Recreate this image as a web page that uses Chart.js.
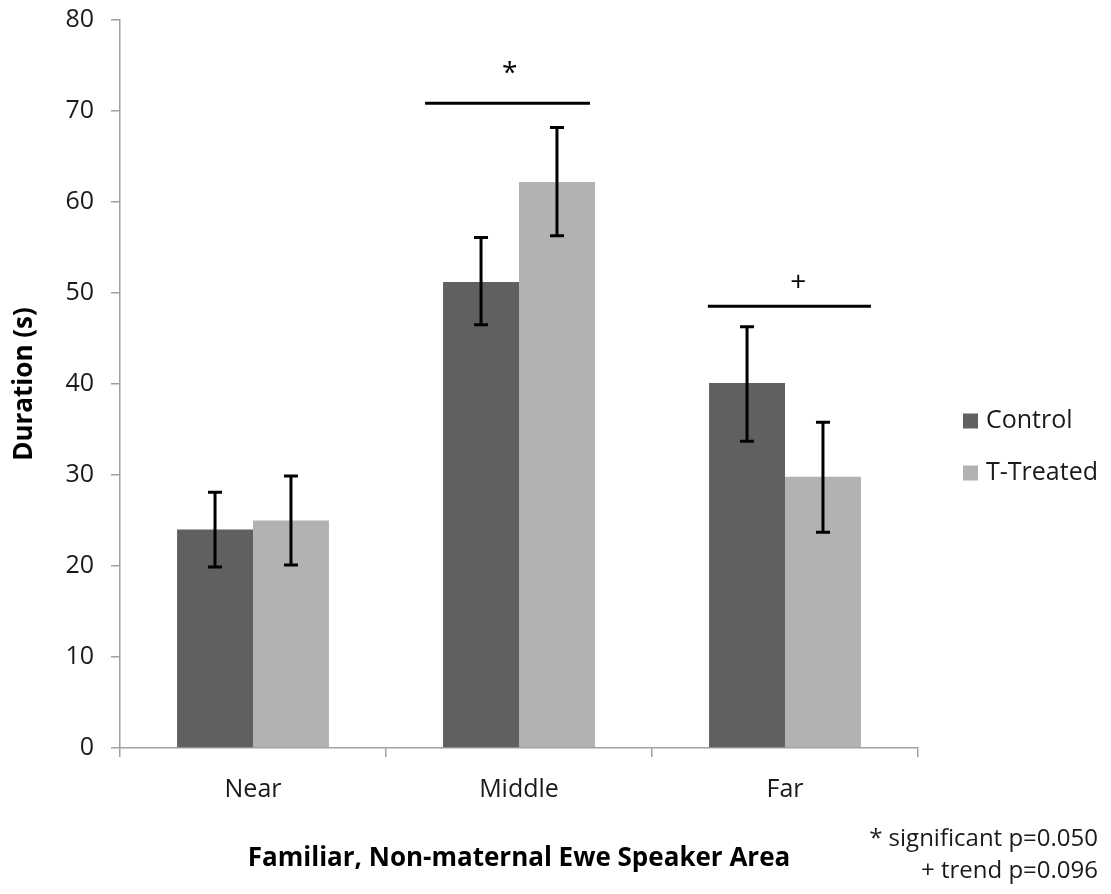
<!DOCTYPE html>
<html>
<head>
<meta charset="utf-8">
<script src="https://cdn.jsdelivr.net/npm/chart.js@4.4.1/dist/chart.umd.min.js"></script>
<style>
  html, body { margin: 0; padding: 0; background: #fff; }
  #wrap { width: 1111px; height: 894px; position: relative; }
</style>
</head>
<body>
<div id="wrap"><canvas id="c" width="1111" height="894"></canvas></div>
<script>
// ---- data ----
const categories = ['Near', 'Middle', 'Far'];
const seriesNames = ['Control', 'T-Treated'];
const controlMean = [24.0, 51.2, 40.1];
const controlLow  = [19.9, 46.5, 33.7];
const controlHigh = [28.1, 56.1, 46.3];
const treatedMean = [25.0, 62.2, 29.8];
const treatedLow  = [20.1, 56.3, 23.7];
const treatedHigh = [29.9, 68.2, 35.8];
const yTicks = [0, 10, 20, 30, 40, 50, 60, 70, 80];
const sigMarks = [
  { category: 1, from: -0.353, to: 0.267, level: 70.85, symbol: '*', symbolAt: -0.035, symbolLevel: 74.1 },
  { category: 2, from: -0.29, to: 0.323, level: 48.55, symbol: '+', symbolAt: 0.05, symbolLevel: 51.1 }
];
const footnotes = ['* significant p=0.050', '+ trend p=0.096'];

const FONT = "'Open Sans', 'DejaVu Sans', sans-serif";
const colors = ['#606060', '#b2b2b2'];

const errBars = {
  id: 'errBars',
  afterDatasetsDraw(chart) {
    const ctx = chart.ctx;
    const y = chart.scales.y, x = chart.scales.x;
    const lows = [controlLow, treatedLow], highs = [controlHigh, treatedHigh];
    ctx.save();
    ctx.strokeStyle = '#000';
    ctx.lineWidth = 3;
    for (let d = 0; d < 2; d++) {
      const meta = chart.getDatasetMeta(d);
      meta.data.forEach((bar, i) => {
        const cx = bar.x;
        const yl = y.getPixelForValue(lows[d][i]);
        const yh = y.getPixelForValue(highs[d][i]);
        ctx.beginPath();
        ctx.moveTo(cx, yl); ctx.lineTo(cx, yh);
        ctx.moveTo(cx - 7, yl); ctx.lineTo(cx + 7, yl);
        ctx.moveTo(cx - 7, yh); ctx.lineTo(cx + 7, yh);
        ctx.stroke();
      });
    }
    // significance marks
    sigMarks.forEach(s => {
      const px1 = x.getPixelForValue(s.category + s.from);
      const px2 = x.getPixelForValue(s.category + s.to);
      const py = y.getPixelForValue(s.level);
      ctx.beginPath();
      ctx.moveTo(px1, py); ctx.lineTo(px2, py);
      ctx.stroke();
      ctx.fillStyle = '#000';
      ctx.font = "28px " + FONT;
      ctx.textAlign = 'center';
      ctx.textBaseline = 'middle';
      ctx.fillText(s.symbol, x.getPixelForValue(s.category + s.symbolAt), y.getPixelForValue(s.symbolLevel));
    });
    // legend
    const area = chart.chartArea;
    ctx.font = "25px " + FONT;
    ctx.textAlign = 'left';
    ctx.textBaseline = 'middle';
    const legY = [421, 473];
    seriesNames.forEach((n, k) => {
      ctx.fillStyle = colors[k];
      ctx.fillRect(area.right + 45, legY[k] - 7.5, 15, 15);
      ctx.fillStyle = '#1a1a1a';
      ctx.fillText(n, area.right + 68, legY[k]);
    });
    // footnotes
    ctx.textAlign = 'right';
    ctx.font = "24px " + FONT;
    ctx.fillText(footnotes[0], 1098, 839);
    ctx.fillText(footnotes[1], 1098, 871);
    ctx.restore();
  }
};

new Chart(document.getElementById('c'), {
  type: 'bar',
  data: {
    labels: categories,
    datasets: [
      { label: seriesNames[0], data: controlMean, backgroundColor: colors[0], borderWidth: 0,
        categoryPercentage: 0.571, barPercentage: 1.0 },
      { label: seriesNames[1], data: treatedMean, backgroundColor: colors[1], borderWidth: 0,
        categoryPercentage: 0.571, barPercentage: 1.0 }
    ]
  },
  options: {
    responsive: false,
    animation: false,
    devicePixelRatio: 1,
    layout: { padding: { left: 0, right: 193, top: 20, bottom: 0 } },
    plugins: { legend: { display: false }, tooltip: { enabled: false } },
    scales: {
      x: {
        afterFit: s => { s.height = 146; s.paddingLeft = 0; s.paddingRight = 0; },
        grid: { offset: true, drawOnChartArea: false, drawTicks: true, tickLength: 9, color: '#a0a0a0', lineWidth: 1.5 },
        border: { color: '#a0a0a0', width: 1.5 },
        ticks: { color: '#1a1a1a', font: { family: FONT, size: 25 }, padding: 18 },
        title: { display: true, text: 'Familiar, Non-maternal Ewe Speaker Area', color: '#000',
                 font: { family: FONT, size: 26, weight: 'bold' }, padding: { top: 20, bottom: 20 } }
      },
      y: {
        min: 0, max: 80,
        afterFit: s => { s.width = 120; s.paddingTop = 0; s.paddingBottom = 0; },
        afterBuildTicks: s => { s.ticks = yTicks.map(v => ({ value: v })); },
        grid: { drawOnChartArea: false, drawTicks: true, tickLength: 9, color: '#a0a0a0', lineWidth: 1.5 },
        border: { color: '#a0a0a0', width: 1.5 },
        ticks: { color: '#1a1a1a', font: { family: FONT, size: 25 }, padding: 17 },
        title: { display: true, text: 'Duration (s)', color: '#000',
                 font: { family: FONT, size: 26, weight: 'bold' }, padding: { top: 9, bottom: 9 } }
      }
    }
  },
  plugins: [errBars]
});
</script>
</body>
</html>
